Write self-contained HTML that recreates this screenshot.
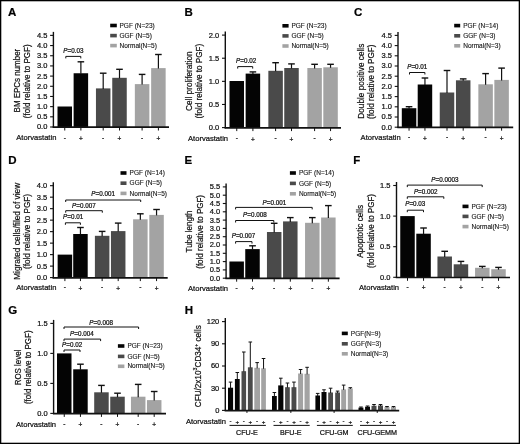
<!DOCTYPE html>
<html><head><meta charset="utf-8"><style>
html,body{margin:0;padding:0;background:#fff;}
body{width:520px;height:444px;overflow:hidden;}
svg{display:block;font-family:'Liberation Sans', sans-serif;will-change:transform;}
text{stroke:#111;stroke-width:0.22px;}
text.lg{stroke-width:0.12px;fill:#1a1a1a;}
</style></head><body>
<svg width="520" height="444" viewBox="0 0 520 444">
<rect x="0" y="0" width="520" height="444" fill="#fff"/>
<rect x="0.6" y="0.6" width="518.8" height="442.8" fill="none" stroke="#000" stroke-width="1.4"/>
<text x="8.00" y="16.10" font-size="11.5" text-anchor="start" font-weight="bold" fill="#000" >A</text>
<line x1="53.40" y1="31.88" x2="53.40" y2="127.60" stroke="#111" stroke-width="1.4"/>
<line x1="50.10" y1="127.00" x2="53.40" y2="127.00" stroke="#111" stroke-width="1.1"/>
<text x="47.40" y="129.40" font-size="7.5" text-anchor="end" font-weight="normal" fill="#111" >0.0</text>
<line x1="50.10" y1="116.82" x2="53.40" y2="116.82" stroke="#111" stroke-width="1.1"/>
<text x="47.40" y="119.22" font-size="7.5" text-anchor="end" font-weight="normal" fill="#111" >0.5</text>
<line x1="50.10" y1="106.64" x2="53.40" y2="106.64" stroke="#111" stroke-width="1.1"/>
<text x="47.40" y="109.04" font-size="7.5" text-anchor="end" font-weight="normal" fill="#111" >1.0</text>
<line x1="50.10" y1="96.46" x2="53.40" y2="96.46" stroke="#111" stroke-width="1.1"/>
<text x="47.40" y="98.86" font-size="7.5" text-anchor="end" font-weight="normal" fill="#111" >1.5</text>
<line x1="50.10" y1="86.28" x2="53.40" y2="86.28" stroke="#111" stroke-width="1.1"/>
<text x="47.40" y="88.68" font-size="7.5" text-anchor="end" font-weight="normal" fill="#111" >2.0</text>
<line x1="50.10" y1="76.10" x2="53.40" y2="76.10" stroke="#111" stroke-width="1.1"/>
<text x="47.40" y="78.50" font-size="7.5" text-anchor="end" font-weight="normal" fill="#111" >2.5</text>
<line x1="50.10" y1="65.92" x2="53.40" y2="65.92" stroke="#111" stroke-width="1.1"/>
<text x="47.40" y="68.32" font-size="7.5" text-anchor="end" font-weight="normal" fill="#111" >3.0</text>
<line x1="50.10" y1="55.74" x2="53.40" y2="55.74" stroke="#111" stroke-width="1.1"/>
<text x="47.40" y="58.14" font-size="7.5" text-anchor="end" font-weight="normal" fill="#111" >3.5</text>
<line x1="50.10" y1="45.56" x2="53.40" y2="45.56" stroke="#111" stroke-width="1.1"/>
<text x="47.40" y="47.96" font-size="7.5" text-anchor="end" font-weight="normal" fill="#111" >4.0</text>
<line x1="50.10" y1="35.38" x2="53.40" y2="35.38" stroke="#111" stroke-width="1.1"/>
<text x="47.40" y="37.78" font-size="7.5" text-anchor="end" font-weight="normal" fill="#111" >4.5</text>
<rect x="57.50" y="106.50" width="14.50" height="20.50" fill="#040404"/>
<line x1="64.75" y1="127.00" x2="64.75" y2="130.50" stroke="#111" stroke-width="1.0"/>
<rect x="73.62" y="73.25" width="14.50" height="53.75" fill="#040404"/>
<line x1="80.88" y1="61.80" x2="80.88" y2="73.75" stroke="#111" stroke-width="1.2"/>
<line x1="77.58" y1="61.80" x2="84.17" y2="61.80" stroke="#111" stroke-width="1.4"/>
<line x1="80.88" y1="127.00" x2="80.88" y2="130.50" stroke="#111" stroke-width="1.0"/>
<rect x="95.95" y="88.40" width="14.50" height="38.60" fill="#4a4a4a"/>
<line x1="103.20" y1="73.20" x2="103.20" y2="88.90" stroke="#111" stroke-width="1.2"/>
<line x1="99.90" y1="73.20" x2="106.50" y2="73.20" stroke="#111" stroke-width="1.4"/>
<line x1="103.20" y1="127.00" x2="103.20" y2="130.50" stroke="#111" stroke-width="1.0"/>
<rect x="112.25" y="77.80" width="14.50" height="49.20" fill="#4a4a4a"/>
<line x1="119.50" y1="69.30" x2="119.50" y2="78.30" stroke="#111" stroke-width="1.2"/>
<line x1="116.20" y1="69.30" x2="122.80" y2="69.30" stroke="#111" stroke-width="1.4"/>
<line x1="119.50" y1="127.00" x2="119.50" y2="130.50" stroke="#111" stroke-width="1.0"/>
<rect x="134.85" y="84.10" width="14.50" height="42.90" fill="#a3a3a3"/>
<line x1="142.10" y1="74.40" x2="142.10" y2="84.60" stroke="#111" stroke-width="1.2"/>
<line x1="138.80" y1="74.40" x2="145.40" y2="74.40" stroke="#111" stroke-width="1.4"/>
<line x1="142.10" y1="127.00" x2="142.10" y2="130.50" stroke="#111" stroke-width="1.0"/>
<rect x="151.15" y="68.10" width="14.50" height="58.90" fill="#a3a3a3"/>
<line x1="158.40" y1="54.50" x2="158.40" y2="68.60" stroke="#111" stroke-width="1.2"/>
<line x1="155.10" y1="54.50" x2="161.70" y2="54.50" stroke="#111" stroke-width="1.4"/>
<line x1="158.40" y1="127.00" x2="158.40" y2="130.50" stroke="#111" stroke-width="1.0"/>
<line x1="52.70" y1="127.20" x2="169.00" y2="127.20" stroke="#111" stroke-width="1.7"/>
<text x="64.75" y="139.80" font-size="6.5" text-anchor="middle" font-weight="normal" fill="#111" >-</text>
<text x="80.88" y="141.30" font-size="6.5" text-anchor="middle" font-weight="normal" fill="#111" >+</text>
<text x="103.20" y="139.80" font-size="6.5" text-anchor="middle" font-weight="normal" fill="#111" >-</text>
<text x="119.50" y="141.30" font-size="6.5" text-anchor="middle" font-weight="normal" fill="#111" >+</text>
<text x="142.10" y="139.80" font-size="6.5" text-anchor="middle" font-weight="normal" fill="#111" >-</text>
<text x="158.40" y="141.30" font-size="6.5" text-anchor="middle" font-weight="normal" fill="#111" >+</text>
<text x="16.30" y="140.40" font-size="7.6" text-anchor="start" font-weight="normal" fill="#111" >Atorvastatin</text>
<rect x="110.20" y="23.70" width="6.60" height="3.60" fill="#040404"/>
<text x="119.50" y="27.60" font-size="6.5" text-anchor="start" font-weight="normal" fill="#111" class="lg">PGF (N=23)</text>
<rect x="110.20" y="33.80" width="6.60" height="3.60" fill="#4a4a4a"/>
<text x="119.50" y="37.70" font-size="6.5" text-anchor="start" font-weight="normal" fill="#111" class="lg">GGF (N=5)</text>
<rect x="110.20" y="43.80" width="6.60" height="3.60" fill="#a3a3a3"/>
<text x="119.50" y="47.70" font-size="6.5" text-anchor="start" font-weight="normal" fill="#111" class="lg">Normal(N=5)</text>
<text transform="translate(20.00,80.60) rotate(-90) scale(0.884,1)" x="0" y="0" font-size="9.0" text-anchor="middle" fill="#111">BM EPCs number</text>
<text transform="translate(30.30,81.30) rotate(-90) scale(0.890,1)" x="0" y="0" font-size="9.0" text-anchor="middle" fill="#111">(fold relative to PGF)</text>
<path d="M65.80,58.40 V56.40 H80.80 V58.40" fill="none" stroke="#111" stroke-width="1.0"/>
<text x="63.30" y="52.60" font-size="6.3" text-anchor="start" fill="#111"><tspan font-style="italic">P</tspan>=0.03</text>
<text x="184.50" y="16.10" font-size="11.5" text-anchor="start" font-weight="bold" fill="#000" >B</text>
<line x1="225.30" y1="31.60" x2="225.30" y2="128.20" stroke="#111" stroke-width="1.4"/>
<line x1="222.00" y1="127.60" x2="225.30" y2="127.60" stroke="#111" stroke-width="1.1"/>
<text x="219.30" y="130.00" font-size="7.5" text-anchor="end" font-weight="normal" fill="#111" >0.0</text>
<line x1="222.00" y1="104.47" x2="225.30" y2="104.47" stroke="#111" stroke-width="1.1"/>
<text x="219.30" y="106.88" font-size="7.5" text-anchor="end" font-weight="normal" fill="#111" >0.5</text>
<line x1="222.00" y1="81.35" x2="225.30" y2="81.35" stroke="#111" stroke-width="1.1"/>
<text x="219.30" y="83.75" font-size="7.5" text-anchor="end" font-weight="normal" fill="#111" >1.0</text>
<line x1="222.00" y1="58.22" x2="225.30" y2="58.22" stroke="#111" stroke-width="1.1"/>
<text x="219.30" y="60.62" font-size="7.5" text-anchor="end" font-weight="normal" fill="#111" >1.5</text>
<line x1="222.00" y1="35.10" x2="225.30" y2="35.10" stroke="#111" stroke-width="1.1"/>
<text x="219.30" y="37.50" font-size="7.5" text-anchor="end" font-weight="normal" fill="#111" >2.0</text>
<rect x="229.50" y="81.00" width="14.50" height="46.60" fill="#040404"/>
<line x1="236.75" y1="127.60" x2="236.75" y2="131.10" stroke="#111" stroke-width="1.0"/>
<rect x="245.65" y="73.60" width="14.50" height="54.00" fill="#040404"/>
<line x1="252.90" y1="71.90" x2="252.90" y2="74.10" stroke="#111" stroke-width="1.2"/>
<line x1="249.60" y1="71.90" x2="256.20" y2="71.90" stroke="#111" stroke-width="1.4"/>
<line x1="252.90" y1="127.60" x2="252.90" y2="131.10" stroke="#111" stroke-width="1.0"/>
<rect x="268.35" y="70.80" width="14.50" height="56.80" fill="#4a4a4a"/>
<line x1="275.60" y1="62.70" x2="275.60" y2="71.30" stroke="#111" stroke-width="1.2"/>
<line x1="272.30" y1="62.70" x2="278.90" y2="62.70" stroke="#111" stroke-width="1.4"/>
<line x1="275.60" y1="127.60" x2="275.60" y2="131.10" stroke="#111" stroke-width="1.0"/>
<rect x="284.25" y="68.00" width="14.50" height="59.60" fill="#4a4a4a"/>
<line x1="291.50" y1="63.90" x2="291.50" y2="68.50" stroke="#111" stroke-width="1.2"/>
<line x1="288.20" y1="63.90" x2="294.80" y2="63.90" stroke="#111" stroke-width="1.4"/>
<line x1="291.50" y1="127.60" x2="291.50" y2="131.10" stroke="#111" stroke-width="1.0"/>
<rect x="307.35" y="68.00" width="14.50" height="59.60" fill="#a3a3a3"/>
<line x1="314.60" y1="64.30" x2="314.60" y2="68.50" stroke="#111" stroke-width="1.2"/>
<line x1="311.30" y1="64.30" x2="317.90" y2="64.30" stroke="#111" stroke-width="1.4"/>
<line x1="314.60" y1="127.60" x2="314.60" y2="131.10" stroke="#111" stroke-width="1.0"/>
<rect x="323.30" y="67.30" width="14.50" height="60.30" fill="#a3a3a3"/>
<line x1="330.55" y1="64.30" x2="330.55" y2="67.80" stroke="#111" stroke-width="1.2"/>
<line x1="327.25" y1="64.30" x2="333.85" y2="64.30" stroke="#111" stroke-width="1.4"/>
<line x1="330.55" y1="127.60" x2="330.55" y2="131.10" stroke="#111" stroke-width="1.0"/>
<line x1="224.60" y1="127.80" x2="341.00" y2="127.80" stroke="#111" stroke-width="1.7"/>
<text x="236.75" y="140.10" font-size="6.5" text-anchor="middle" font-weight="normal" fill="#111" >-</text>
<text x="252.90" y="141.60" font-size="6.5" text-anchor="middle" font-weight="normal" fill="#111" >+</text>
<text x="275.60" y="140.10" font-size="6.5" text-anchor="middle" font-weight="normal" fill="#111" >-</text>
<text x="291.50" y="141.60" font-size="6.5" text-anchor="middle" font-weight="normal" fill="#111" >+</text>
<text x="314.60" y="140.10" font-size="6.5" text-anchor="middle" font-weight="normal" fill="#111" >-</text>
<text x="330.55" y="141.60" font-size="6.5" text-anchor="middle" font-weight="normal" fill="#111" >+</text>
<text x="188.00" y="140.80" font-size="7.6" text-anchor="start" font-weight="normal" fill="#111" >Atorvastatin</text>
<rect x="282.40" y="24.00" width="6.20" height="3.60" fill="#040404"/>
<text x="291.40" y="27.90" font-size="6.5" text-anchor="start" font-weight="normal" fill="#111" class="lg">PGF (N=23)</text>
<rect x="282.40" y="34.10" width="6.20" height="3.60" fill="#4a4a4a"/>
<text x="291.40" y="38.00" font-size="6.5" text-anchor="start" font-weight="normal" fill="#111" class="lg">GGF (N=5)</text>
<rect x="282.40" y="44.20" width="6.20" height="3.60" fill="#a3a3a3"/>
<text x="291.40" y="48.10" font-size="6.5" text-anchor="start" font-weight="normal" fill="#111" class="lg">Normal(N=5)</text>
<text transform="translate(191.80,81.15) rotate(-90) scale(0.916,1)" x="0" y="0" font-size="9.0" text-anchor="middle" fill="#111">Cell proliferation</text>
<text transform="translate(202.30,81.20) rotate(-90) scale(0.900,1)" x="0" y="0" font-size="9.0" text-anchor="middle" fill="#111">(fold relative to PGF)</text>
<path d="M237.70,68.60 V66.60 H252.70 V68.60" fill="none" stroke="#111" stroke-width="1.0"/>
<text x="236.10" y="63.20" font-size="6.3" text-anchor="start" fill="#111"><tspan font-style="italic">P</tspan>=0.02</text>
<text x="354.00" y="16.10" font-size="11.5" text-anchor="start" font-weight="bold" fill="#000" >C</text>
<line x1="398.00" y1="31.90" x2="398.00" y2="127.80" stroke="#111" stroke-width="1.4"/>
<line x1="394.70" y1="127.20" x2="398.00" y2="127.20" stroke="#111" stroke-width="1.1"/>
<text x="392.00" y="129.60" font-size="7.5" text-anchor="end" font-weight="normal" fill="#111" >0.0</text>
<line x1="394.70" y1="117.00" x2="398.00" y2="117.00" stroke="#111" stroke-width="1.1"/>
<text x="392.00" y="119.40" font-size="7.5" text-anchor="end" font-weight="normal" fill="#111" >0.5</text>
<line x1="394.70" y1="106.80" x2="398.00" y2="106.80" stroke="#111" stroke-width="1.1"/>
<text x="392.00" y="109.20" font-size="7.5" text-anchor="end" font-weight="normal" fill="#111" >1.0</text>
<line x1="394.70" y1="96.60" x2="398.00" y2="96.60" stroke="#111" stroke-width="1.1"/>
<text x="392.00" y="99.00" font-size="7.5" text-anchor="end" font-weight="normal" fill="#111" >1.5</text>
<line x1="394.70" y1="86.40" x2="398.00" y2="86.40" stroke="#111" stroke-width="1.1"/>
<text x="392.00" y="88.80" font-size="7.5" text-anchor="end" font-weight="normal" fill="#111" >2.0</text>
<line x1="394.70" y1="76.20" x2="398.00" y2="76.20" stroke="#111" stroke-width="1.1"/>
<text x="392.00" y="78.60" font-size="7.5" text-anchor="end" font-weight="normal" fill="#111" >2.5</text>
<line x1="394.70" y1="66.00" x2="398.00" y2="66.00" stroke="#111" stroke-width="1.1"/>
<text x="392.00" y="68.40" font-size="7.5" text-anchor="end" font-weight="normal" fill="#111" >3.0</text>
<line x1="394.70" y1="55.80" x2="398.00" y2="55.80" stroke="#111" stroke-width="1.1"/>
<text x="392.00" y="58.20" font-size="7.5" text-anchor="end" font-weight="normal" fill="#111" >3.5</text>
<line x1="394.70" y1="45.60" x2="398.00" y2="45.60" stroke="#111" stroke-width="1.1"/>
<text x="392.00" y="48.00" font-size="7.5" text-anchor="end" font-weight="normal" fill="#111" >4.0</text>
<line x1="394.70" y1="35.40" x2="398.00" y2="35.40" stroke="#111" stroke-width="1.1"/>
<text x="392.00" y="37.80" font-size="7.5" text-anchor="end" font-weight="normal" fill="#111" >4.5</text>
<rect x="401.80" y="108.20" width="14.50" height="19.00" fill="#040404"/>
<line x1="409.05" y1="106.70" x2="409.05" y2="108.70" stroke="#111" stroke-width="1.2"/>
<line x1="405.75" y1="106.70" x2="412.35" y2="106.70" stroke="#111" stroke-width="1.4"/>
<line x1="409.05" y1="127.20" x2="409.05" y2="130.70" stroke="#111" stroke-width="1.0"/>
<rect x="417.70" y="84.50" width="14.50" height="42.70" fill="#040404"/>
<line x1="424.95" y1="78.00" x2="424.95" y2="85.00" stroke="#111" stroke-width="1.2"/>
<line x1="421.65" y1="78.00" x2="428.25" y2="78.00" stroke="#111" stroke-width="1.4"/>
<line x1="424.95" y1="127.20" x2="424.95" y2="130.70" stroke="#111" stroke-width="1.0"/>
<rect x="439.75" y="92.50" width="14.50" height="34.70" fill="#4a4a4a"/>
<line x1="447.00" y1="70.50" x2="447.00" y2="93.00" stroke="#111" stroke-width="1.2"/>
<line x1="443.70" y1="70.50" x2="450.30" y2="70.50" stroke="#111" stroke-width="1.4"/>
<line x1="447.00" y1="127.20" x2="447.00" y2="130.70" stroke="#111" stroke-width="1.0"/>
<rect x="455.95" y="80.30" width="14.50" height="46.90" fill="#4a4a4a"/>
<line x1="463.20" y1="78.90" x2="463.20" y2="80.80" stroke="#111" stroke-width="1.2"/>
<line x1="459.90" y1="78.90" x2="466.50" y2="78.90" stroke="#111" stroke-width="1.4"/>
<line x1="463.20" y1="127.20" x2="463.20" y2="130.70" stroke="#111" stroke-width="1.0"/>
<rect x="478.35" y="84.30" width="14.50" height="42.90" fill="#a3a3a3"/>
<line x1="485.60" y1="73.60" x2="485.60" y2="84.80" stroke="#111" stroke-width="1.2"/>
<line x1="482.30" y1="73.60" x2="488.90" y2="73.60" stroke="#111" stroke-width="1.4"/>
<line x1="485.60" y1="127.20" x2="485.60" y2="130.70" stroke="#111" stroke-width="1.0"/>
<rect x="494.35" y="79.90" width="14.50" height="47.30" fill="#a3a3a3"/>
<line x1="501.60" y1="68.10" x2="501.60" y2="80.40" stroke="#111" stroke-width="1.2"/>
<line x1="498.30" y1="68.10" x2="504.90" y2="68.10" stroke="#111" stroke-width="1.4"/>
<line x1="501.60" y1="127.20" x2="501.60" y2="130.70" stroke="#111" stroke-width="1.0"/>
<line x1="397.30" y1="127.40" x2="513.20" y2="127.40" stroke="#111" stroke-width="1.7"/>
<text x="409.05" y="139.20" font-size="6.5" text-anchor="middle" font-weight="normal" fill="#111" >-</text>
<text x="424.95" y="140.70" font-size="6.5" text-anchor="middle" font-weight="normal" fill="#111" >+</text>
<text x="447.00" y="139.20" font-size="6.5" text-anchor="middle" font-weight="normal" fill="#111" >-</text>
<text x="463.20" y="140.70" font-size="6.5" text-anchor="middle" font-weight="normal" fill="#111" >+</text>
<text x="485.60" y="139.20" font-size="6.5" text-anchor="middle" font-weight="normal" fill="#111" >-</text>
<text x="501.60" y="140.70" font-size="6.5" text-anchor="middle" font-weight="normal" fill="#111" >+</text>
<text x="360.60" y="139.80" font-size="7.6" text-anchor="start" font-weight="normal" fill="#111" >Atorvastatin</text>
<rect x="454.20" y="23.80" width="6.00" height="3.60" fill="#040404"/>
<text x="463.20" y="27.70" font-size="6.5" text-anchor="start" font-weight="normal" fill="#111" class="lg">PGF (N=14)</text>
<rect x="454.20" y="34.00" width="6.00" height="3.60" fill="#4a4a4a"/>
<text x="463.20" y="37.90" font-size="6.5" text-anchor="start" font-weight="normal" fill="#111" class="lg">GGF (N=3)</text>
<rect x="454.20" y="44.00" width="6.00" height="3.60" fill="#a3a3a3"/>
<text x="463.20" y="47.90" font-size="6.5" text-anchor="start" font-weight="normal" fill="#111" class="lg">Normal(N=3)</text>
<text transform="translate(364.30,81.20) rotate(-90) scale(0.915,1)" x="0" y="0" font-size="9.0" text-anchor="middle" fill="#111">Double positive cells</text>
<text transform="translate(374.30,81.80) rotate(-90) scale(0.897,1)" x="0" y="0" font-size="9.0" text-anchor="middle" fill="#111">(fold relative to PGF)</text>
<path d="M409.50,74.50 V72.50 H424.90 V74.50" fill="none" stroke="#111" stroke-width="1.0"/>
<text x="407.20" y="68.80" font-size="6.3" text-anchor="start" fill="#111"><tspan font-style="italic">P</tspan>=0.01</text>
<text x="8.30" y="163.70" font-size="11.5" text-anchor="start" font-weight="bold" fill="#000" >D</text>
<line x1="53.30" y1="182.18" x2="53.30" y2="278.20" stroke="#111" stroke-width="1.4"/>
<line x1="50.00" y1="277.60" x2="53.30" y2="277.60" stroke="#111" stroke-width="1.1"/>
<text x="47.30" y="280.00" font-size="7.5" text-anchor="end" font-weight="normal" fill="#111" >0.0</text>
<line x1="50.00" y1="266.11" x2="53.30" y2="266.11" stroke="#111" stroke-width="1.1"/>
<text x="47.30" y="268.51" font-size="7.5" text-anchor="end" font-weight="normal" fill="#111" >0.5</text>
<line x1="50.00" y1="254.62" x2="53.30" y2="254.62" stroke="#111" stroke-width="1.1"/>
<text x="47.30" y="257.02" font-size="7.5" text-anchor="end" font-weight="normal" fill="#111" >1.0</text>
<line x1="50.00" y1="243.13" x2="53.30" y2="243.13" stroke="#111" stroke-width="1.1"/>
<text x="47.30" y="245.53" font-size="7.5" text-anchor="end" font-weight="normal" fill="#111" >1.5</text>
<line x1="50.00" y1="231.64" x2="53.30" y2="231.64" stroke="#111" stroke-width="1.1"/>
<text x="47.30" y="234.04" font-size="7.5" text-anchor="end" font-weight="normal" fill="#111" >2.0</text>
<line x1="50.00" y1="220.15" x2="53.30" y2="220.15" stroke="#111" stroke-width="1.1"/>
<text x="47.30" y="222.55" font-size="7.5" text-anchor="end" font-weight="normal" fill="#111" >2.5</text>
<line x1="50.00" y1="208.66" x2="53.30" y2="208.66" stroke="#111" stroke-width="1.1"/>
<text x="47.30" y="211.06" font-size="7.5" text-anchor="end" font-weight="normal" fill="#111" >3.0</text>
<line x1="50.00" y1="197.17" x2="53.30" y2="197.17" stroke="#111" stroke-width="1.1"/>
<text x="47.30" y="199.57" font-size="7.5" text-anchor="end" font-weight="normal" fill="#111" >3.5</text>
<line x1="50.00" y1="185.68" x2="53.30" y2="185.68" stroke="#111" stroke-width="1.1"/>
<text x="47.30" y="188.08" font-size="7.5" text-anchor="end" font-weight="normal" fill="#111" >4.0</text>
<rect x="57.65" y="254.62" width="14.50" height="22.98" fill="#040404"/>
<line x1="64.90" y1="277.60" x2="64.90" y2="281.10" stroke="#111" stroke-width="1.0"/>
<rect x="73.20" y="234.00" width="14.50" height="43.60" fill="#040404"/>
<line x1="80.45" y1="227.50" x2="80.45" y2="234.50" stroke="#111" stroke-width="1.2"/>
<line x1="77.15" y1="227.50" x2="83.75" y2="227.50" stroke="#111" stroke-width="1.4"/>
<line x1="80.45" y1="277.60" x2="80.45" y2="281.10" stroke="#111" stroke-width="1.0"/>
<rect x="94.90" y="235.80" width="14.50" height="41.80" fill="#4a4a4a"/>
<line x1="102.15" y1="231.40" x2="102.15" y2="236.30" stroke="#111" stroke-width="1.2"/>
<line x1="98.85" y1="231.40" x2="105.45" y2="231.40" stroke="#111" stroke-width="1.4"/>
<line x1="102.15" y1="277.60" x2="102.15" y2="281.10" stroke="#111" stroke-width="1.0"/>
<rect x="110.95" y="231.10" width="14.50" height="46.50" fill="#4a4a4a"/>
<line x1="118.20" y1="223.10" x2="118.20" y2="231.60" stroke="#111" stroke-width="1.2"/>
<line x1="114.90" y1="223.10" x2="121.50" y2="223.10" stroke="#111" stroke-width="1.4"/>
<line x1="118.20" y1="277.60" x2="118.20" y2="281.10" stroke="#111" stroke-width="1.0"/>
<rect x="133.10" y="219.30" width="14.50" height="58.30" fill="#a3a3a3"/>
<line x1="140.35" y1="213.80" x2="140.35" y2="219.80" stroke="#111" stroke-width="1.2"/>
<line x1="137.05" y1="213.80" x2="143.65" y2="213.80" stroke="#111" stroke-width="1.4"/>
<line x1="140.35" y1="277.60" x2="140.35" y2="281.10" stroke="#111" stroke-width="1.0"/>
<rect x="149.30" y="214.90" width="14.50" height="62.70" fill="#a3a3a3"/>
<line x1="156.55" y1="209.50" x2="156.55" y2="215.40" stroke="#111" stroke-width="1.2"/>
<line x1="153.25" y1="209.50" x2="159.85" y2="209.50" stroke="#111" stroke-width="1.4"/>
<line x1="156.55" y1="277.60" x2="156.55" y2="281.10" stroke="#111" stroke-width="1.0"/>
<line x1="52.60" y1="277.80" x2="167.70" y2="277.80" stroke="#111" stroke-width="1.7"/>
<text x="64.90" y="289.40" font-size="6.5" text-anchor="middle" font-weight="normal" fill="#111" >-</text>
<text x="80.45" y="290.90" font-size="6.5" text-anchor="middle" font-weight="normal" fill="#111" >+</text>
<text x="102.15" y="289.40" font-size="6.5" text-anchor="middle" font-weight="normal" fill="#111" >-</text>
<text x="118.20" y="290.90" font-size="6.5" text-anchor="middle" font-weight="normal" fill="#111" >+</text>
<text x="140.35" y="289.40" font-size="6.5" text-anchor="middle" font-weight="normal" fill="#111" >-</text>
<text x="156.55" y="290.90" font-size="6.5" text-anchor="middle" font-weight="normal" fill="#111" >+</text>
<text x="16.30" y="290.20" font-size="7.6" text-anchor="start" font-weight="normal" fill="#111" >Atorvastatin</text>
<rect x="120.50" y="171.20" width="6.00" height="3.60" fill="#040404"/>
<text x="129.60" y="175.10" font-size="6.5" text-anchor="start" font-weight="normal" fill="#111" class="lg">PGF (N=14)</text>
<rect x="120.50" y="181.40" width="6.00" height="3.60" fill="#4a4a4a"/>
<text x="129.60" y="185.30" font-size="6.5" text-anchor="start" font-weight="normal" fill="#111" class="lg">GGF (N=5)</text>
<rect x="120.50" y="191.60" width="6.00" height="3.60" fill="#a3a3a3"/>
<text x="129.60" y="195.50" font-size="6.5" text-anchor="start" font-weight="normal" fill="#111" class="lg">Normal(N=5)</text>
<text transform="translate(19.60,231.35) rotate(-90) scale(0.924,1)" x="0" y="0" font-size="9.0" text-anchor="middle" fill="#111">Migrated cells/filed of view</text>
<text transform="translate(30.00,231.45) rotate(-90) scale(0.904,1)" x="0" y="0" font-size="9.0" text-anchor="middle" fill="#111">(fold relative to PGF)</text>
<path d="M65.40,224.80 V222.80 H80.40 V224.80" fill="none" stroke="#111" stroke-width="1.0"/>
<text x="63.00" y="219.00" font-size="6.3" text-anchor="start" fill="#111"><tspan font-style="italic">P</tspan>=0.01</text>
<path d="M65.70,212.70 V210.70 H102.30 V212.70" fill="none" stroke="#111" stroke-width="1.0"/>
<text x="72.00" y="207.50" font-size="6.3" text-anchor="start" fill="#111"><tspan font-style="italic">P</tspan>=0.007</text>
<path d="M65.70,202.00 V200.00 H140.70 V202.00" fill="none" stroke="#111" stroke-width="1.0"/>
<text x="115.00" y="195.90" font-size="6.3" text-anchor="end" fill="#111"><tspan font-style="italic">P</tspan>=0.001</text>
<text x="184.50" y="163.70" font-size="11.5" text-anchor="start" font-weight="bold" fill="#000" >E</text>
<line x1="226.10" y1="183.40" x2="226.10" y2="278.80" stroke="#111" stroke-width="1.4"/>
<line x1="222.80" y1="278.20" x2="226.10" y2="278.20" stroke="#111" stroke-width="1.1"/>
<text x="220.10" y="280.60" font-size="7.5" text-anchor="end" font-weight="normal" fill="#111" >0.0</text>
<line x1="222.80" y1="269.90" x2="226.10" y2="269.90" stroke="#111" stroke-width="1.1"/>
<text x="220.10" y="272.30" font-size="7.5" text-anchor="end" font-weight="normal" fill="#111" >0.5</text>
<line x1="222.80" y1="261.60" x2="226.10" y2="261.60" stroke="#111" stroke-width="1.1"/>
<text x="220.10" y="264.00" font-size="7.5" text-anchor="end" font-weight="normal" fill="#111" >1.0</text>
<line x1="222.80" y1="253.30" x2="226.10" y2="253.30" stroke="#111" stroke-width="1.1"/>
<text x="220.10" y="255.70" font-size="7.5" text-anchor="end" font-weight="normal" fill="#111" >1.5</text>
<line x1="222.80" y1="245.00" x2="226.10" y2="245.00" stroke="#111" stroke-width="1.1"/>
<text x="220.10" y="247.40" font-size="7.5" text-anchor="end" font-weight="normal" fill="#111" >2.0</text>
<line x1="222.80" y1="236.70" x2="226.10" y2="236.70" stroke="#111" stroke-width="1.1"/>
<text x="220.10" y="239.10" font-size="7.5" text-anchor="end" font-weight="normal" fill="#111" >2.5</text>
<line x1="222.80" y1="228.40" x2="226.10" y2="228.40" stroke="#111" stroke-width="1.1"/>
<text x="220.10" y="230.80" font-size="7.5" text-anchor="end" font-weight="normal" fill="#111" >3.0</text>
<line x1="222.80" y1="220.10" x2="226.10" y2="220.10" stroke="#111" stroke-width="1.1"/>
<text x="220.10" y="222.50" font-size="7.5" text-anchor="end" font-weight="normal" fill="#111" >3.5</text>
<line x1="222.80" y1="211.80" x2="226.10" y2="211.80" stroke="#111" stroke-width="1.1"/>
<text x="220.10" y="214.20" font-size="7.5" text-anchor="end" font-weight="normal" fill="#111" >4.0</text>
<line x1="222.80" y1="203.50" x2="226.10" y2="203.50" stroke="#111" stroke-width="1.1"/>
<text x="220.10" y="205.90" font-size="7.5" text-anchor="end" font-weight="normal" fill="#111" >4.5</text>
<line x1="222.80" y1="195.20" x2="226.10" y2="195.20" stroke="#111" stroke-width="1.1"/>
<text x="220.10" y="197.60" font-size="7.5" text-anchor="end" font-weight="normal" fill="#111" >5.0</text>
<line x1="222.80" y1="186.90" x2="226.10" y2="186.90" stroke="#111" stroke-width="1.1"/>
<text x="220.10" y="189.30" font-size="7.5" text-anchor="end" font-weight="normal" fill="#111" >5.5</text>
<rect x="229.40" y="261.50" width="14.50" height="16.70" fill="#040404"/>
<line x1="236.65" y1="278.20" x2="236.65" y2="281.70" stroke="#111" stroke-width="1.0"/>
<rect x="245.25" y="249.10" width="14.50" height="29.10" fill="#040404"/>
<line x1="252.50" y1="245.80" x2="252.50" y2="249.60" stroke="#111" stroke-width="1.2"/>
<line x1="249.20" y1="245.80" x2="255.80" y2="245.80" stroke="#111" stroke-width="1.4"/>
<line x1="252.50" y1="278.20" x2="252.50" y2="281.70" stroke="#111" stroke-width="1.0"/>
<rect x="266.95" y="232.00" width="14.50" height="46.20" fill="#4a4a4a"/>
<line x1="274.20" y1="223.30" x2="274.20" y2="232.50" stroke="#111" stroke-width="1.2"/>
<line x1="270.90" y1="223.30" x2="277.50" y2="223.30" stroke="#111" stroke-width="1.4"/>
<line x1="274.20" y1="278.20" x2="274.20" y2="281.70" stroke="#111" stroke-width="1.0"/>
<rect x="283.05" y="221.40" width="14.50" height="56.80" fill="#4a4a4a"/>
<line x1="290.30" y1="217.60" x2="290.30" y2="221.90" stroke="#111" stroke-width="1.2"/>
<line x1="287.00" y1="217.60" x2="293.60" y2="217.60" stroke="#111" stroke-width="1.4"/>
<line x1="290.30" y1="278.20" x2="290.30" y2="281.70" stroke="#111" stroke-width="1.0"/>
<rect x="305.05" y="222.80" width="14.50" height="55.40" fill="#a3a3a3"/>
<line x1="312.30" y1="217.60" x2="312.30" y2="223.30" stroke="#111" stroke-width="1.2"/>
<line x1="309.00" y1="217.60" x2="315.60" y2="217.60" stroke="#111" stroke-width="1.4"/>
<line x1="312.30" y1="278.20" x2="312.30" y2="281.70" stroke="#111" stroke-width="1.0"/>
<rect x="321.10" y="217.50" width="14.50" height="60.70" fill="#a3a3a3"/>
<line x1="328.35" y1="205.60" x2="328.35" y2="218.00" stroke="#111" stroke-width="1.2"/>
<line x1="325.05" y1="205.60" x2="331.65" y2="205.60" stroke="#111" stroke-width="1.4"/>
<line x1="328.35" y1="278.20" x2="328.35" y2="281.70" stroke="#111" stroke-width="1.0"/>
<line x1="225.40" y1="278.40" x2="339.60" y2="278.40" stroke="#111" stroke-width="1.7"/>
<text x="236.65" y="289.80" font-size="6.5" text-anchor="middle" font-weight="normal" fill="#111" >-</text>
<text x="252.50" y="291.30" font-size="6.5" text-anchor="middle" font-weight="normal" fill="#111" >+</text>
<text x="274.20" y="289.80" font-size="6.5" text-anchor="middle" font-weight="normal" fill="#111" >-</text>
<text x="290.30" y="291.30" font-size="6.5" text-anchor="middle" font-weight="normal" fill="#111" >+</text>
<text x="312.30" y="289.80" font-size="6.5" text-anchor="middle" font-weight="normal" fill="#111" >-</text>
<text x="328.35" y="291.30" font-size="6.5" text-anchor="middle" font-weight="normal" fill="#111" >+</text>
<text x="188.00" y="290.70" font-size="7.6" text-anchor="start" font-weight="normal" fill="#111" >Atorvastatin</text>
<rect x="289.90" y="171.20" width="6.00" height="3.60" fill="#040404"/>
<text x="298.90" y="175.10" font-size="6.5" text-anchor="start" font-weight="normal" fill="#111" class="lg">PGF (N=14)</text>
<rect x="289.90" y="181.60" width="6.00" height="3.60" fill="#4a4a4a"/>
<text x="298.90" y="185.50" font-size="6.5" text-anchor="start" font-weight="normal" fill="#111" class="lg">GGF (N=5)</text>
<rect x="289.90" y="192.00" width="6.00" height="3.60" fill="#a3a3a3"/>
<text x="298.90" y="195.90" font-size="6.5" text-anchor="start" font-weight="normal" fill="#111" class="lg">Normal(N=5)</text>
<text transform="translate(191.90,231.45) rotate(-90) scale(0.892,1)" x="0" y="0" font-size="9.0" text-anchor="middle" fill="#111">Tube length</text>
<text transform="translate(202.90,231.90) rotate(-90) scale(0.890,1)" x="0" y="0" font-size="9.0" text-anchor="middle" fill="#111">(fold relative to PGF)</text>
<path d="M235.60,243.60 V241.60 H252.00 V243.60" fill="none" stroke="#111" stroke-width="1.0"/>
<text x="231.70" y="238.20" font-size="6.3" text-anchor="start" fill="#111"><tspan font-style="italic">P</tspan>=0.007</text>
<path d="M235.60,222.50 V220.50 H273.80 V222.50" fill="none" stroke="#111" stroke-width="1.0"/>
<text x="243.00" y="217.00" font-size="6.3" text-anchor="start" fill="#111"><tspan font-style="italic">P</tspan>=0.008</text>
<path d="M235.60,209.40 V207.40 H312.20 V209.40" fill="none" stroke="#111" stroke-width="1.0"/>
<text x="262.60" y="204.60" font-size="6.3" text-anchor="start" fill="#111"><tspan font-style="italic">P</tspan>=0.001</text>
<text x="353.30" y="163.70" font-size="11.5" text-anchor="start" font-weight="bold" fill="#000" >F</text>
<line x1="396.50" y1="182.00" x2="396.50" y2="277.90" stroke="#111" stroke-width="1.4"/>
<line x1="393.20" y1="277.30" x2="396.50" y2="277.30" stroke="#111" stroke-width="1.1"/>
<text x="390.50" y="279.70" font-size="7.5" text-anchor="end" font-weight="normal" fill="#111" >0.0</text>
<line x1="393.20" y1="246.70" x2="396.50" y2="246.70" stroke="#111" stroke-width="1.1"/>
<text x="390.50" y="249.10" font-size="7.5" text-anchor="end" font-weight="normal" fill="#111" >0.5</text>
<line x1="393.20" y1="216.10" x2="396.50" y2="216.10" stroke="#111" stroke-width="1.1"/>
<text x="390.50" y="218.50" font-size="7.5" text-anchor="end" font-weight="normal" fill="#111" >1.0</text>
<line x1="393.20" y1="185.50" x2="396.50" y2="185.50" stroke="#111" stroke-width="1.1"/>
<text x="390.50" y="187.90" font-size="7.5" text-anchor="end" font-weight="normal" fill="#111" >1.5</text>
<rect x="400.25" y="216.10" width="14.50" height="61.20" fill="#040404"/>
<line x1="407.50" y1="277.30" x2="407.50" y2="280.80" stroke="#111" stroke-width="1.0"/>
<rect x="416.30" y="233.70" width="14.50" height="43.60" fill="#040404"/>
<line x1="423.55" y1="228.00" x2="423.55" y2="234.20" stroke="#111" stroke-width="1.2"/>
<line x1="420.25" y1="228.00" x2="426.85" y2="228.00" stroke="#111" stroke-width="1.4"/>
<line x1="423.55" y1="277.30" x2="423.55" y2="280.80" stroke="#111" stroke-width="1.0"/>
<rect x="437.45" y="256.50" width="14.50" height="20.80" fill="#4a4a4a"/>
<line x1="444.70" y1="251.30" x2="444.70" y2="257.00" stroke="#111" stroke-width="1.2"/>
<line x1="441.40" y1="251.30" x2="448.00" y2="251.30" stroke="#111" stroke-width="1.4"/>
<line x1="444.70" y1="277.30" x2="444.70" y2="280.80" stroke="#111" stroke-width="1.0"/>
<rect x="453.70" y="264.30" width="14.50" height="13.00" fill="#4a4a4a"/>
<line x1="460.95" y1="261.40" x2="460.95" y2="264.80" stroke="#111" stroke-width="1.2"/>
<line x1="457.65" y1="261.40" x2="464.25" y2="261.40" stroke="#111" stroke-width="1.4"/>
<line x1="460.95" y1="277.30" x2="460.95" y2="280.80" stroke="#111" stroke-width="1.0"/>
<rect x="475.05" y="267.80" width="14.50" height="9.50" fill="#a3a3a3"/>
<line x1="482.30" y1="266.40" x2="482.30" y2="268.30" stroke="#111" stroke-width="1.2"/>
<line x1="479.00" y1="266.40" x2="485.60" y2="266.40" stroke="#111" stroke-width="1.4"/>
<line x1="482.30" y1="277.30" x2="482.30" y2="280.80" stroke="#111" stroke-width="1.0"/>
<rect x="491.25" y="269.20" width="14.50" height="8.10" fill="#a3a3a3"/>
<line x1="498.50" y1="267.40" x2="498.50" y2="269.70" stroke="#111" stroke-width="1.2"/>
<line x1="495.20" y1="267.40" x2="501.80" y2="267.40" stroke="#111" stroke-width="1.4"/>
<line x1="498.50" y1="277.30" x2="498.50" y2="280.80" stroke="#111" stroke-width="1.0"/>
<line x1="395.80" y1="277.50" x2="510.00" y2="277.50" stroke="#111" stroke-width="1.7"/>
<text x="407.50" y="288.90" font-size="6.5" text-anchor="middle" font-weight="normal" fill="#111" >-</text>
<text x="423.55" y="290.40" font-size="6.5" text-anchor="middle" font-weight="normal" fill="#111" >+</text>
<text x="444.70" y="288.90" font-size="6.5" text-anchor="middle" font-weight="normal" fill="#111" >-</text>
<text x="460.95" y="290.40" font-size="6.5" text-anchor="middle" font-weight="normal" fill="#111" >+</text>
<text x="482.30" y="288.90" font-size="6.5" text-anchor="middle" font-weight="normal" fill="#111" >-</text>
<text x="498.50" y="290.40" font-size="6.5" text-anchor="middle" font-weight="normal" fill="#111" >+</text>
<text x="359.00" y="289.70" font-size="7.6" text-anchor="start" font-weight="normal" fill="#111" >Atorvastatin</text>
<rect x="462.50" y="204.60" width="6.00" height="3.60" fill="#040404"/>
<text x="471.50" y="208.50" font-size="6.5" text-anchor="start" font-weight="normal" fill="#111" class="lg">PGF (N=23)</text>
<rect x="462.50" y="214.60" width="6.00" height="3.60" fill="#4a4a4a"/>
<text x="471.50" y="218.50" font-size="6.5" text-anchor="start" font-weight="normal" fill="#111" class="lg">GGF (N=5)</text>
<rect x="462.50" y="224.80" width="6.00" height="3.60" fill="#a3a3a3"/>
<text x="471.50" y="228.70" font-size="6.5" text-anchor="start" font-weight="normal" fill="#111" class="lg">Normal(N=5)</text>
<text transform="translate(363.20,231.40) rotate(-90) scale(0.913,1)" x="0" y="0" font-size="9.0" text-anchor="middle" fill="#111">Apoptotic cells</text>
<text transform="translate(373.80,230.95) rotate(-90) scale(0.891,1)" x="0" y="0" font-size="9.0" text-anchor="middle" fill="#111">(fold relative to PGF)</text>
<path d="M407.30,212.20 V210.20 H423.50 V212.20" fill="none" stroke="#111" stroke-width="1.0"/>
<text x="405.20" y="206.20" font-size="6.3" text-anchor="start" fill="#111"><tspan font-style="italic">P</tspan>=0.03</text>
<path d="M407.30,198.80 V196.80 H443.80 V198.80" fill="none" stroke="#111" stroke-width="1.0"/>
<text x="413.90" y="193.80" font-size="6.3" text-anchor="start" fill="#111"><tspan font-style="italic">P</tspan>=0.002</text>
<path d="M407.30,187.10 V185.10 H482.20 V187.10" fill="none" stroke="#111" stroke-width="1.0"/>
<text x="458.50" y="181.50" font-size="6.3" text-anchor="end" fill="#111"><tspan font-style="italic">P</tspan>=0.0003</text>
<text x="8.30" y="313.60" font-size="11.5" text-anchor="start" font-weight="bold" fill="#000" >G</text>
<line x1="53.60" y1="319.90" x2="53.60" y2="414.00" stroke="#111" stroke-width="1.4"/>
<line x1="50.30" y1="413.40" x2="53.60" y2="413.40" stroke="#111" stroke-width="1.1"/>
<text x="47.60" y="415.80" font-size="7.5" text-anchor="end" font-weight="normal" fill="#111" >0.0</text>
<line x1="50.30" y1="383.40" x2="53.60" y2="383.40" stroke="#111" stroke-width="1.1"/>
<text x="47.60" y="385.80" font-size="7.5" text-anchor="end" font-weight="normal" fill="#111" >0.5</text>
<line x1="50.30" y1="353.40" x2="53.60" y2="353.40" stroke="#111" stroke-width="1.1"/>
<text x="47.60" y="355.80" font-size="7.5" text-anchor="end" font-weight="normal" fill="#111" >1.0</text>
<line x1="50.30" y1="323.40" x2="53.60" y2="323.40" stroke="#111" stroke-width="1.1"/>
<text x="47.60" y="325.80" font-size="7.5" text-anchor="end" font-weight="normal" fill="#111" >1.5</text>
<rect x="57.00" y="353.40" width="14.50" height="60.00" fill="#040404"/>
<line x1="64.25" y1="413.40" x2="64.25" y2="416.90" stroke="#111" stroke-width="1.0"/>
<rect x="73.20" y="369.30" width="14.50" height="44.10" fill="#040404"/>
<line x1="80.45" y1="364.20" x2="80.45" y2="369.80" stroke="#111" stroke-width="1.2"/>
<line x1="77.15" y1="364.20" x2="83.75" y2="364.20" stroke="#111" stroke-width="1.4"/>
<line x1="80.45" y1="413.40" x2="80.45" y2="416.90" stroke="#111" stroke-width="1.0"/>
<rect x="94.20" y="392.30" width="14.50" height="21.10" fill="#4a4a4a"/>
<line x1="101.45" y1="385.40" x2="101.45" y2="392.80" stroke="#111" stroke-width="1.2"/>
<line x1="98.15" y1="385.40" x2="104.75" y2="385.40" stroke="#111" stroke-width="1.4"/>
<line x1="101.45" y1="413.40" x2="101.45" y2="416.90" stroke="#111" stroke-width="1.0"/>
<rect x="110.25" y="396.70" width="14.50" height="16.70" fill="#4a4a4a"/>
<line x1="117.50" y1="393.20" x2="117.50" y2="397.20" stroke="#111" stroke-width="1.2"/>
<line x1="114.20" y1="393.20" x2="120.80" y2="393.20" stroke="#111" stroke-width="1.4"/>
<line x1="117.50" y1="413.40" x2="117.50" y2="416.90" stroke="#111" stroke-width="1.0"/>
<rect x="130.95" y="396.70" width="14.50" height="16.70" fill="#a3a3a3"/>
<line x1="138.20" y1="384.40" x2="138.20" y2="397.20" stroke="#111" stroke-width="1.2"/>
<line x1="134.90" y1="384.40" x2="141.50" y2="384.40" stroke="#111" stroke-width="1.4"/>
<line x1="138.20" y1="413.40" x2="138.20" y2="416.90" stroke="#111" stroke-width="1.0"/>
<rect x="146.95" y="400.10" width="14.50" height="13.30" fill="#a3a3a3"/>
<line x1="154.20" y1="391.50" x2="154.20" y2="400.60" stroke="#111" stroke-width="1.2"/>
<line x1="150.90" y1="391.50" x2="157.50" y2="391.50" stroke="#111" stroke-width="1.4"/>
<line x1="154.20" y1="413.40" x2="154.20" y2="416.90" stroke="#111" stroke-width="1.0"/>
<line x1="52.90" y1="413.60" x2="166.00" y2="413.60" stroke="#111" stroke-width="1.7"/>
<text x="64.25" y="425.60" font-size="6.5" text-anchor="middle" font-weight="normal" fill="#111" >-</text>
<text x="80.45" y="427.10" font-size="6.5" text-anchor="middle" font-weight="normal" fill="#111" >+</text>
<text x="101.45" y="425.60" font-size="6.5" text-anchor="middle" font-weight="normal" fill="#111" >-</text>
<text x="117.50" y="427.10" font-size="6.5" text-anchor="middle" font-weight="normal" fill="#111" >+</text>
<text x="138.20" y="425.60" font-size="6.5" text-anchor="middle" font-weight="normal" fill="#111" >-</text>
<text x="154.20" y="427.10" font-size="6.5" text-anchor="middle" font-weight="normal" fill="#111" >+</text>
<text x="16.00" y="426.50" font-size="7.6" text-anchor="start" font-weight="normal" fill="#111" >Atorvastatin</text>
<rect x="117.90" y="344.20" width="6.50" height="3.60" fill="#040404"/>
<text x="127.40" y="348.10" font-size="6.5" text-anchor="start" font-weight="normal" fill="#111" class="lg">PGF (N=23)</text>
<rect x="117.90" y="354.60" width="6.50" height="3.60" fill="#4a4a4a"/>
<text x="127.40" y="358.50" font-size="6.5" text-anchor="start" font-weight="normal" fill="#111" class="lg">GGF (N=5)</text>
<rect x="117.90" y="364.50" width="6.50" height="3.60" fill="#a3a3a3"/>
<text x="127.40" y="368.40" font-size="6.5" text-anchor="start" font-weight="normal" fill="#111" class="lg">Normal(N=5)</text>
<text transform="translate(20.70,367.50) rotate(-90) scale(0.880,1)" x="0" y="0" font-size="9.0" text-anchor="middle" fill="#111">ROS level</text>
<text transform="translate(31.10,367.25) rotate(-90) scale(0.889,1)" x="0" y="0" font-size="9.0" text-anchor="middle" fill="#111">(fold relative to PGF)</text>
<path d="M64.00,352.00 V350.00 H80.00 V352.00" fill="none" stroke="#111" stroke-width="1.0"/>
<text x="62.00" y="346.50" font-size="6.3" text-anchor="start" fill="#111"><tspan font-style="italic">P</tspan>=0.02</text>
<path d="M64.00,341.10 V339.10 H100.60 V341.10" fill="none" stroke="#111" stroke-width="1.0"/>
<text x="70.00" y="335.50" font-size="6.3" text-anchor="start" fill="#111"><tspan font-style="italic">P</tspan>=0.004</text>
<path d="M64.00,329.00 V327.00 H138.60 V329.00" fill="none" stroke="#111" stroke-width="1.0"/>
<text x="89.30" y="324.80" font-size="6.3" text-anchor="start" fill="#111"><tspan font-style="italic">P</tspan>=0.008</text>
<text x="184.70" y="313.60" font-size="11.5" text-anchor="start" font-weight="bold" fill="#000" >H</text>
<line x1="225.30" y1="318.10" x2="225.30" y2="411.00" stroke="#111" stroke-width="1.4"/>
<line x1="222.00" y1="410.40" x2="225.30" y2="410.40" stroke="#111" stroke-width="1.1"/>
<text x="219.30" y="412.80" font-size="7.5" text-anchor="end" font-weight="normal" fill="#111" >0</text>
<line x1="222.00" y1="388.20" x2="225.30" y2="388.20" stroke="#111" stroke-width="1.1"/>
<text x="219.30" y="390.60" font-size="7.5" text-anchor="end" font-weight="normal" fill="#111" >30</text>
<line x1="222.00" y1="366.00" x2="225.30" y2="366.00" stroke="#111" stroke-width="1.1"/>
<text x="219.30" y="368.40" font-size="7.5" text-anchor="end" font-weight="normal" fill="#111" >60</text>
<line x1="222.00" y1="343.80" x2="225.30" y2="343.80" stroke="#111" stroke-width="1.1"/>
<text x="219.30" y="346.20" font-size="7.5" text-anchor="end" font-weight="normal" fill="#111" >90</text>
<line x1="222.00" y1="321.60" x2="225.30" y2="321.60" stroke="#111" stroke-width="1.1"/>
<text x="219.30" y="324.00" font-size="7.5" text-anchor="end" font-weight="normal" fill="#111" >120</text>
<rect x="228.00" y="387.70" width="5.10" height="22.70" fill="#040404"/>
<line x1="230.55" y1="382.10" x2="230.55" y2="388.20" stroke="#111" stroke-width="1.0"/>
<line x1="228.75" y1="382.10" x2="232.35" y2="382.10" stroke="#111" stroke-width="1.0"/>
<text x="230.55" y="422.90" font-size="6.2" text-anchor="middle" font-weight="normal" fill="#111" >-</text>
<rect x="234.90" y="379.00" width="4.80" height="31.40" fill="#040404"/>
<line x1="237.30" y1="372.50" x2="237.30" y2="379.50" stroke="#111" stroke-width="1.0"/>
<line x1="235.50" y1="372.50" x2="239.10" y2="372.50" stroke="#111" stroke-width="1.0"/>
<text x="237.30" y="423.50" font-size="6.2" text-anchor="middle" font-weight="normal" fill="#111" >+</text>
<rect x="241.50" y="371.20" width="4.60" height="39.20" fill="#4a4a4a"/>
<line x1="243.80" y1="352.00" x2="243.80" y2="371.70" stroke="#111" stroke-width="1.0"/>
<line x1="242.00" y1="352.00" x2="245.60" y2="352.00" stroke="#111" stroke-width="1.0"/>
<text x="243.80" y="422.90" font-size="6.2" text-anchor="middle" font-weight="normal" fill="#111" >-</text>
<rect x="247.90" y="367.30" width="4.80" height="43.10" fill="#4a4a4a"/>
<line x1="250.30" y1="342.00" x2="250.30" y2="367.80" stroke="#111" stroke-width="1.0"/>
<line x1="248.50" y1="342.00" x2="252.10" y2="342.00" stroke="#111" stroke-width="1.0"/>
<text x="250.30" y="423.50" font-size="6.2" text-anchor="middle" font-weight="normal" fill="#111" >+</text>
<rect x="254.30" y="367.80" width="5.70" height="42.60" fill="#a3a3a3"/>
<line x1="257.15" y1="362.60" x2="257.15" y2="368.30" stroke="#111" stroke-width="1.0"/>
<line x1="255.35" y1="362.60" x2="258.95" y2="362.60" stroke="#111" stroke-width="1.0"/>
<text x="257.15" y="422.90" font-size="6.2" text-anchor="middle" font-weight="normal" fill="#111" >-</text>
<rect x="261.20" y="368.30" width="4.70" height="42.10" fill="#a3a3a3"/>
<line x1="263.55" y1="358.50" x2="263.55" y2="368.80" stroke="#111" stroke-width="1.0"/>
<line x1="261.75" y1="358.50" x2="265.35" y2="358.50" stroke="#111" stroke-width="1.0"/>
<text x="263.55" y="423.50" font-size="6.2" text-anchor="middle" font-weight="normal" fill="#111" >+</text>
<line x1="246.95" y1="410.40" x2="246.95" y2="412.90" stroke="#111" stroke-width="1.0"/>
<line x1="229.50" y1="425.40" x2="265.90" y2="425.40" stroke="#111" stroke-width="1.0"/>
<text x="246.95" y="434.50" font-size="7.2" text-anchor="middle" font-weight="normal" fill="#111" >CFU-E</text>
<rect x="272.00" y="396.00" width="4.80" height="14.40" fill="#040404"/>
<line x1="274.40" y1="392.50" x2="274.40" y2="396.50" stroke="#111" stroke-width="1.0"/>
<line x1="272.60" y1="392.50" x2="276.20" y2="392.50" stroke="#111" stroke-width="1.0"/>
<text x="274.40" y="422.90" font-size="6.2" text-anchor="middle" font-weight="normal" fill="#111" >-</text>
<rect x="278.20" y="385.40" width="5.20" height="25.00" fill="#040404"/>
<line x1="280.80" y1="378.20" x2="280.80" y2="385.90" stroke="#111" stroke-width="1.0"/>
<line x1="279.00" y1="378.20" x2="282.60" y2="378.20" stroke="#111" stroke-width="1.0"/>
<text x="280.80" y="423.50" font-size="6.2" text-anchor="middle" font-weight="normal" fill="#111" >+</text>
<rect x="285.10" y="387.20" width="4.70" height="23.20" fill="#4a4a4a"/>
<line x1="287.45" y1="383.00" x2="287.45" y2="387.70" stroke="#111" stroke-width="1.0"/>
<line x1="285.65" y1="383.00" x2="289.25" y2="383.00" stroke="#111" stroke-width="1.0"/>
<text x="287.45" y="422.90" font-size="6.2" text-anchor="middle" font-weight="normal" fill="#111" >-</text>
<rect x="291.50" y="387.20" width="4.90" height="23.20" fill="#4a4a4a"/>
<line x1="293.95" y1="382.10" x2="293.95" y2="387.70" stroke="#111" stroke-width="1.0"/>
<line x1="292.15" y1="382.10" x2="295.75" y2="382.10" stroke="#111" stroke-width="1.0"/>
<text x="293.95" y="423.50" font-size="6.2" text-anchor="middle" font-weight="normal" fill="#111" >+</text>
<rect x="298.10" y="373.50" width="5.00" height="36.90" fill="#a3a3a3"/>
<line x1="300.60" y1="369.50" x2="300.60" y2="374.00" stroke="#111" stroke-width="1.0"/>
<line x1="298.80" y1="369.50" x2="302.40" y2="369.50" stroke="#111" stroke-width="1.0"/>
<text x="300.60" y="422.90" font-size="6.2" text-anchor="middle" font-weight="normal" fill="#111" >-</text>
<rect x="304.50" y="373.80" width="5.20" height="36.60" fill="#a3a3a3"/>
<line x1="307.10" y1="367.30" x2="307.10" y2="374.30" stroke="#111" stroke-width="1.0"/>
<line x1="305.30" y1="367.30" x2="308.90" y2="367.30" stroke="#111" stroke-width="1.0"/>
<text x="307.10" y="423.50" font-size="6.2" text-anchor="middle" font-weight="normal" fill="#111" >+</text>
<line x1="290.85" y1="410.40" x2="290.85" y2="412.90" stroke="#111" stroke-width="1.0"/>
<line x1="273.50" y1="425.40" x2="309.70" y2="425.40" stroke="#111" stroke-width="1.0"/>
<text x="290.85" y="434.50" font-size="7.2" text-anchor="middle" font-weight="normal" fill="#111" >BFU-E</text>
<rect x="315.40" y="395.50" width="4.60" height="14.90" fill="#040404"/>
<line x1="317.70" y1="393.40" x2="317.70" y2="396.00" stroke="#111" stroke-width="1.0"/>
<line x1="315.90" y1="393.40" x2="319.50" y2="393.40" stroke="#111" stroke-width="1.0"/>
<text x="317.70" y="422.90" font-size="6.2" text-anchor="middle" font-weight="normal" fill="#111" >-</text>
<rect x="321.50" y="392.00" width="5.00" height="18.40" fill="#040404"/>
<line x1="324.00" y1="389.80" x2="324.00" y2="392.50" stroke="#111" stroke-width="1.0"/>
<line x1="322.20" y1="389.80" x2="325.80" y2="389.80" stroke="#111" stroke-width="1.0"/>
<text x="324.00" y="423.50" font-size="6.2" text-anchor="middle" font-weight="normal" fill="#111" >+</text>
<rect x="328.20" y="392.50" width="4.80" height="17.90" fill="#4a4a4a"/>
<line x1="330.60" y1="388.20" x2="330.60" y2="393.00" stroke="#111" stroke-width="1.0"/>
<line x1="328.80" y1="388.20" x2="332.40" y2="388.20" stroke="#111" stroke-width="1.0"/>
<text x="330.60" y="422.90" font-size="6.2" text-anchor="middle" font-weight="normal" fill="#111" >-</text>
<rect x="335.20" y="392.50" width="4.80" height="17.90" fill="#4a4a4a"/>
<line x1="337.60" y1="391.10" x2="337.60" y2="393.00" stroke="#111" stroke-width="1.0"/>
<line x1="335.80" y1="391.10" x2="339.40" y2="391.10" stroke="#111" stroke-width="1.0"/>
<text x="337.60" y="423.50" font-size="6.2" text-anchor="middle" font-weight="normal" fill="#111" >+</text>
<rect x="341.20" y="389.40" width="4.90" height="21.00" fill="#a3a3a3"/>
<line x1="343.65" y1="385.10" x2="343.65" y2="389.90" stroke="#111" stroke-width="1.0"/>
<line x1="341.85" y1="385.10" x2="345.45" y2="385.10" stroke="#111" stroke-width="1.0"/>
<text x="343.65" y="422.90" font-size="6.2" text-anchor="middle" font-weight="normal" fill="#111" >-</text>
<rect x="347.80" y="388.50" width="5.00" height="21.90" fill="#a3a3a3"/>
<line x1="350.30" y1="387.70" x2="350.30" y2="389.00" stroke="#111" stroke-width="1.0"/>
<line x1="348.50" y1="387.70" x2="352.10" y2="387.70" stroke="#111" stroke-width="1.0"/>
<text x="350.30" y="423.50" font-size="6.2" text-anchor="middle" font-weight="normal" fill="#111" >+</text>
<line x1="334.10" y1="410.40" x2="334.10" y2="412.90" stroke="#111" stroke-width="1.0"/>
<line x1="316.90" y1="425.40" x2="352.80" y2="425.40" stroke="#111" stroke-width="1.0"/>
<text x="334.10" y="434.50" font-size="7.2" text-anchor="middle" font-weight="normal" fill="#111" >CFU-GM</text>
<rect x="358.50" y="407.60" width="4.90" height="2.80" fill="#040404"/>
<line x1="360.95" y1="407.00" x2="360.95" y2="408.10" stroke="#111" stroke-width="1.0"/>
<line x1="359.15" y1="407.00" x2="362.75" y2="407.00" stroke="#111" stroke-width="1.0"/>
<text x="360.95" y="422.90" font-size="6.2" text-anchor="middle" font-weight="normal" fill="#111" >-</text>
<rect x="365.10" y="406.70" width="4.90" height="3.70" fill="#040404"/>
<line x1="367.55" y1="406.00" x2="367.55" y2="407.20" stroke="#111" stroke-width="1.0"/>
<line x1="365.75" y1="406.00" x2="369.35" y2="406.00" stroke="#111" stroke-width="1.0"/>
<text x="367.55" y="423.50" font-size="6.2" text-anchor="middle" font-weight="normal" fill="#111" >+</text>
<rect x="371.50" y="405.80" width="5.00" height="4.60" fill="#4a4a4a"/>
<line x1="374.00" y1="404.50" x2="374.00" y2="406.30" stroke="#111" stroke-width="1.0"/>
<line x1="372.20" y1="404.50" x2="375.80" y2="404.50" stroke="#111" stroke-width="1.0"/>
<text x="374.00" y="422.90" font-size="6.2" text-anchor="middle" font-weight="normal" fill="#111" >-</text>
<rect x="378.00" y="405.50" width="5.00" height="4.90" fill="#4a4a4a"/>
<line x1="380.50" y1="404.50" x2="380.50" y2="406.00" stroke="#111" stroke-width="1.0"/>
<line x1="378.70" y1="404.50" x2="382.30" y2="404.50" stroke="#111" stroke-width="1.0"/>
<text x="380.50" y="423.50" font-size="6.2" text-anchor="middle" font-weight="normal" fill="#111" >+</text>
<rect x="384.50" y="407.00" width="5.00" height="3.40" fill="#a3a3a3"/>
<line x1="387.00" y1="406.50" x2="387.00" y2="407.50" stroke="#111" stroke-width="1.0"/>
<line x1="385.20" y1="406.50" x2="388.80" y2="406.50" stroke="#111" stroke-width="1.0"/>
<text x="387.00" y="422.90" font-size="6.2" text-anchor="middle" font-weight="normal" fill="#111" >-</text>
<rect x="391.00" y="407.00" width="5.00" height="3.40" fill="#a3a3a3"/>
<line x1="393.50" y1="406.50" x2="393.50" y2="407.50" stroke="#111" stroke-width="1.0"/>
<line x1="391.70" y1="406.50" x2="395.30" y2="406.50" stroke="#111" stroke-width="1.0"/>
<text x="393.50" y="423.50" font-size="6.2" text-anchor="middle" font-weight="normal" fill="#111" >+</text>
<line x1="377.25" y1="410.40" x2="377.25" y2="412.90" stroke="#111" stroke-width="1.0"/>
<line x1="360.00" y1="425.40" x2="396.00" y2="425.40" stroke="#111" stroke-width="1.0"/>
<text x="377.25" y="434.50" font-size="7.2" text-anchor="middle" font-weight="normal" fill="#111" >CFU-GEMM</text>
<line x1="224.60" y1="410.60" x2="399.20" y2="410.60" stroke="#111" stroke-width="1.7"/>
<text x="185.90" y="423.50" font-size="7.6" text-anchor="start" font-weight="normal" fill="#111" >Atorvastatin</text>
<rect x="341.80" y="331.60" width="6.00" height="3.60" fill="#040404"/>
<text x="350.80" y="335.50" font-size="6.5" text-anchor="start" font-weight="normal" fill="#111" class="lg">PGF(N=9)</text>
<rect x="341.80" y="342.00" width="6.00" height="3.60" fill="#4a4a4a"/>
<text x="350.80" y="345.90" font-size="6.5" text-anchor="start" font-weight="normal" fill="#111" class="lg">GGF(N=3)</text>
<rect x="341.80" y="352.00" width="6.00" height="3.60" fill="#a3a3a3"/>
<text x="350.80" y="355.90" font-size="6.5" text-anchor="start" font-weight="normal" fill="#111" class="lg">Normal(N=3)</text>
<text transform="translate(200.6,366.2) rotate(-90) scale(0.905,1)" x="0" y="0" font-size="9.0" text-anchor="middle" fill="#111">CFU/2x10<tspan font-size="6" dy="-3.2">3</tspan><tspan dy="3.2">CD34</tspan><tspan font-size="5.5" dy="-2.8">+</tspan><tspan dy="2.8"> cells</tspan></text>
</svg></body></html>
